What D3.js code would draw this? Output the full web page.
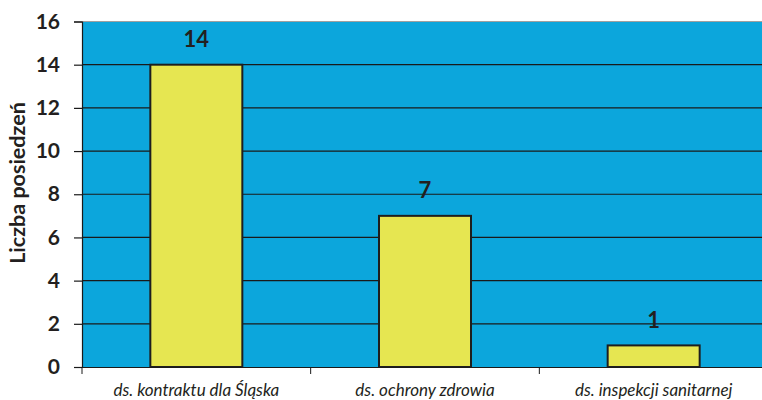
<!DOCTYPE html>
<html>
<head>
<meta charset="utf-8">
<script src="https://cdn.jsdelivr.net/npm/d3@7"></script>
<style>
  body { margin: 0; background: #fff; }
  svg { display: block; font-family: Lato, "Open Sans", sans-serif; }
</style>
</head>
<body>
<svg id="chart" width="762" height="400"></svg>
<script>
// Meeting counts per committee
const categories = ["ds. kontraktu dla Śląska", "ds. ochrony zdrowia", "ds. inspekcji sanitarnej"];
const values = [14, 7, 1];
const yTicks = [0, 2, 4, 6, 8, 10, 12, 14, 16];
const yTitle = "Liczba posiedzeń";

const svg = d3.select("#chart");
const plotLeft = 82, plotRight = 768, plotTop = 21.5, plotBottom = 367;

const x = d3.scaleBand().domain(categories).range([plotLeft, plotRight]).paddingInner(0).paddingOuter(0);
const y = d3.scaleLinear().domain([0, 16]).range([plotBottom, plotTop]);

// plot background
svg.append("rect")
  .attr("x", plotLeft).attr("y", plotTop)
  .attr("width", plotRight - plotLeft).attr("height", plotBottom - plotTop)
  .attr("fill", "#0ca6dc");

// horizontal gridlines
svg.append("g").selectAll("line").data(yTicks.filter(d => d > 0 && d < 16)).join("line")
  .attr("x1", plotLeft).attr("x2", plotRight)
  .attr("y1", d => y(d)).attr("y2", d => y(d))
  .attr("stroke", "#1a1a1a").attr("stroke-width", 1.2);

// top border
svg.append("line").attr("x1", plotLeft).attr("x2", plotRight)
  .attr("y1", y(16)).attr("y2", y(16))
  .attr("stroke", "#a0a0a0").attr("stroke-width", 1);

// bars
const barW = 92;
svg.append("g").selectAll("rect").data(values).join("rect")
  .attr("x", (d, i) => x(categories[i]) + x.bandwidth() / 2 - barW / 2)
  .attr("y", d => y(d))
  .attr("width", barW)
  .attr("height", d => y(0) - y(d))
  .attr("fill", "#e6e651")
  .attr("stroke", "#1e1e1e").attr("stroke-width", 2);

// value labels
svg.append("g").selectAll("text").data(values).join("text")
  .attr("x", (d, i) => x(categories[i]) + x.bandwidth() / 2)
  .attr("y", d => y(d) - 17.5)
  .attr("text-anchor", "middle")
  .attr("font-size", 22).attr("font-weight", "bold").attr("fill", "#231f20")
  .text(d => d);

// y axis
const yAxis = d3.axisLeft(y).tickValues(yTicks).tickSize(8).tickPadding(14);
const gy = svg.append("g").attr("transform", `translate(${plotLeft},0)`).call(yAxis);
gy.select(".domain").attr("stroke", "#1a1a1a").attr("stroke-width", 1.2);
gy.selectAll(".tick line").attr("stroke", "#1a1a1a").attr("stroke-width", 1.2);
gy.selectAll(".tick text")
  .attr("font-size", 21).attr("font-weight", "bold").attr("fill", "#231f20")
  .attr("font-family", "Lato, sans-serif");

// x axis
const xAxis = d3.axisBottom(x).tickSize(0).tickPadding(17);
const gx = svg.append("g").attr("transform", `translate(0,${plotBottom})`).call(xAxis);
gx.select(".domain").attr("stroke", "#1a1a1a").attr("stroke-width", 1.2);
gx.selectAll(".tick text")
  .attr("font-size", 17).attr("font-style", "italic").attr("fill", "#231f20")
  .attr("font-family", "Lato, sans-serif");

// category separators below axis
svg.append("g").selectAll("line").data(categories).join("line")
  .attr("x1", d => x(d)).attr("x2", d => x(d))
  .attr("y1", plotBottom).attr("y2", plotBottom + 7)
  .attr("stroke", "#1a1a1a").attr("stroke-width", 1);

// y title
svg.append("text")
  .attr("transform", "translate(25,183) rotate(-90)")
  .attr("text-anchor", "middle")
  .attr("font-size", 21.5).attr("font-weight", "bold").attr("fill", "#231f20")
  .text(yTitle);
</script>
</body>
</html>
